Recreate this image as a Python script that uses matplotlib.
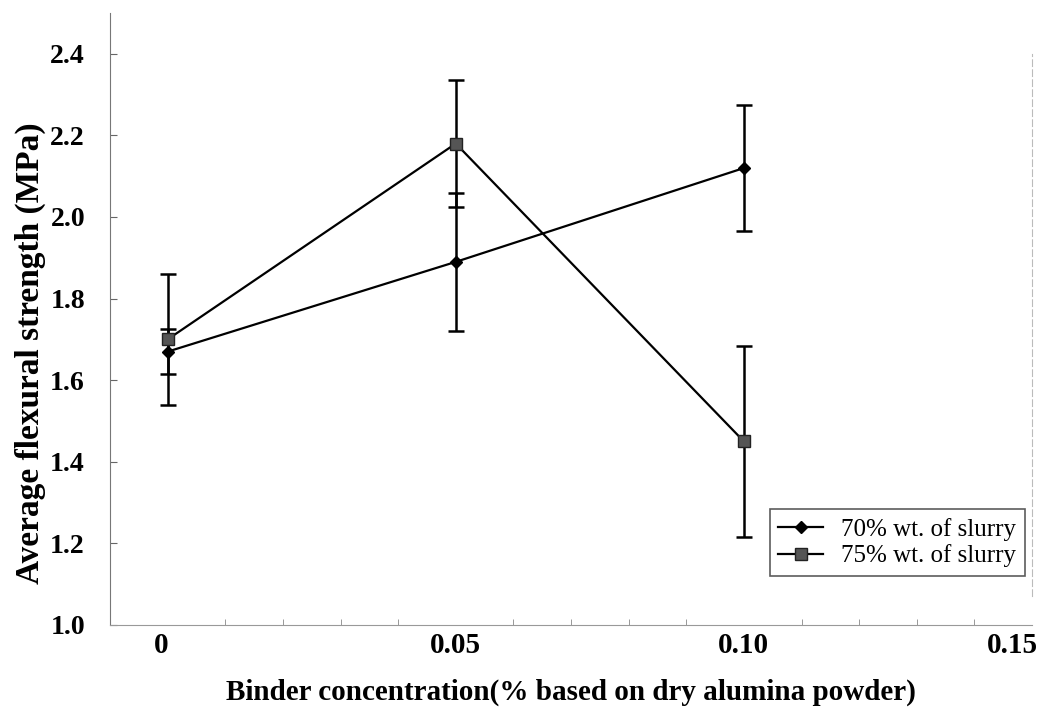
import matplotlib
matplotlib.use("Agg")
import matplotlib.pyplot as plt
from matplotlib.lines import Line2D
import matplotlib.transforms as mtransforms
import numpy as np

x = [0.0, 0.05, 0.10]
s70 = [1.67, 1.89, 2.12]
e70 = [0.055, 0.17, 0.155]
s75 = [1.70, 2.18, 1.45]
e75 = [0.16, 0.155, 0.235]
xticks = [0, 0.05, 0.10, 0.15]
xtick_labels = ["0", "0.05", "0.10", "0.15"]
yticks = [1.0, 1.2, 1.4, 1.6, 1.8, 2.0, 2.2, 2.4]
series_labels = ['70% wt. of slurry', '75% wt. of slurry']

plt.rcParams['font.family'] = ['Liberation Serif', 'DejaVu Serif']

fig = plt.figure(figsize=(10.53, 7.09), dpi=100)
ax = fig.add_axes([110/1053, 1 - 625/709, (1032-110)/1053, (625-13)/709])

ax.errorbar(x, s70, yerr=e70, color='black', lw=1.6, marker='D', ms=6,
            mfc='black', mec='black', capsize=6, capthick=1.8, elinewidth=1.8, zorder=3)
ax.errorbar(x, s75, yerr=e75, color='black', lw=1.6, marker='s', ms=9,
            mfc='#555555', mec='#222222', capsize=6, capthick=1.8, elinewidth=1.8, zorder=3)

ax.set_xlim(-0.01, 0.149)
ax.set_ylim(1.0, 2.5)
ax.set_yticks(yticks)
ax.set_yticklabels([f"{v:.1f}" for v in yticks])
ax.set_xticks(xticks)
ax.set_xticklabels(xtick_labels)
ax.set_xticks(np.arange(-0.01, 0.15, 0.01), minor=True)
ax.tick_params(axis='y', direction='in', length=5, color='#666666', labelsize=20, pad=18)
ax.tick_params(axis='x', which='both', direction='in', length=4, color='#888888', labelsize=21, pad=5)
ax.tick_params(axis='x', which='major', length=0)
for lab in ax.get_xticklabels() + ax.get_yticklabels():
    lab.set_fontweight('bold')

# shift the first and last x tick labels slightly, as in the reference
last = ax.get_xticklabels()[-1]
last.set_transform(last.get_transform() + mtransforms.ScaledTranslation(-20/100, 0, fig.dpi_scale_trans))
first = ax.get_xticklabels()[0]
first.set_transform(first.get_transform() + mtransforms.ScaledTranslation(-6/100, 0, fig.dpi_scale_trans))

ax.spines['top'].set_visible(False)
ax.spines['left'].set_color('#777777')
ax.spines['bottom'].set_color('#999999')
ax.spines['right'].set_color('#bbbbbb')
ax.spines['right'].set_linestyle((0, (6, 3)))
ax.spines['right'].set_bounds(1.07, 2.4)

ax.set_xlabel('Binder concentration(% based on dry alumina powder)', fontsize=21,
              fontweight='bold', labelpad=14)
ax.set_ylabel('Average flexural strength (MPa)', fontsize=24, fontweight='bold')
ax.yaxis.set_label_coords(-0.069, 0.444)

handles = [
    Line2D([], [], color='black', lw=1.6, marker='D', ms=6, mfc='black', mec='black'),
    Line2D([], [], color='black', lw=1.6, marker='s', ms=9, mfc='#555555', mec='#222222'),
]
leg = ax.legend(handles, series_labels, loc='lower right', bbox_to_anchor=(0.992, 0.08),
                fontsize=18, frameon=True, fancybox=False, edgecolor='#333333',
                handlelength=1.8, borderpad=0.35, labelspacing=0.15, handletextpad=0.7,
                borderaxespad=0)
leg.get_frame().set_linewidth(1.2)

fig.savefig('out.png', dpi=100)
